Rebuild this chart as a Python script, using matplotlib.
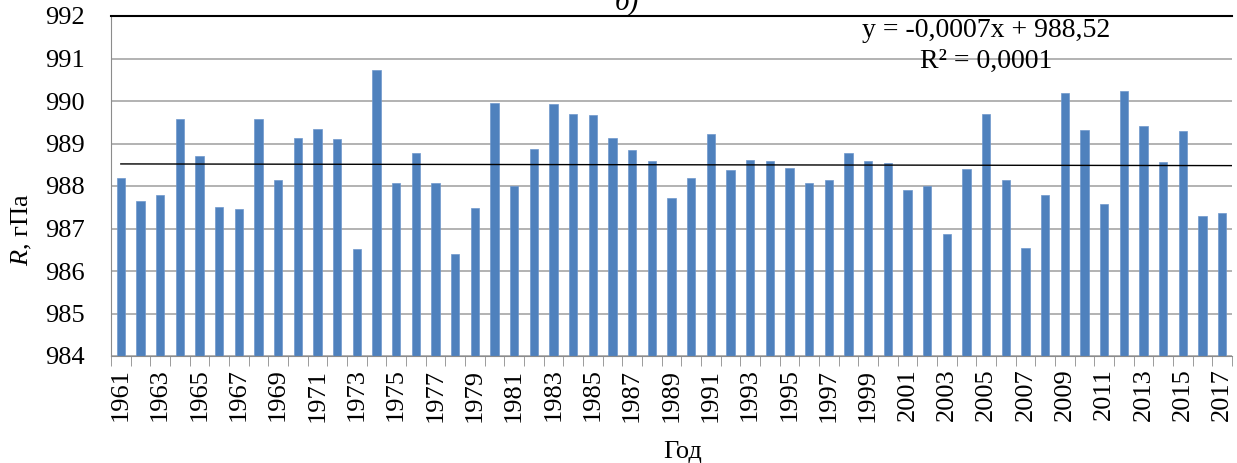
###########################################################################################################################
# Mean annual pressure R, hPa, 1961-2017 (panel b)
###########################################################################################################################
# Imports
import numpy as np
import matplotlib.pyplot as plt

###########################################################################################################################
# Data
years = list(range(1961, 2018))
pressure = [
    988.18, 987.65, 987.80, 989.58, 988.70, 987.51, 987.46, 989.58, 988.14, 989.14,  # 1961-1970
    989.35, 989.10, 986.52, 990.73, 988.06, 988.78, 988.06, 986.39, 987.49, 989.95,  # 1971-1980
    988.00, 988.87, 989.92, 989.70, 989.67, 989.14, 988.85, 988.59, 987.71, 988.18,  # 1981-1990
    989.23, 988.37, 988.62, 988.59, 988.43, 988.08, 988.15, 988.78, 988.59, 988.54,  # 1991-2000
    987.90, 988.00, 986.86, 988.40, 989.70, 988.14, 986.55, 987.80, 990.19, 989.32,  # 2001-2010
    987.58, 990.23, 989.42, 988.56, 989.29, 987.29, 987.36,                          # 2011-2017
]
trend_slope = -0.0007
trend_intercept = 988.52
equation_text = "y = -0,0007x + 988,52\nR\u00b2 = 0,0001"

###########################################################################################################################
# Style
plt.rcParams['font.family'] = ['Liberation Serif', 'DejaVu Serif']
plt.rcParams['mathtext.fontset'] = 'custom'
plt.rcParams['mathtext.it'] = 'Liberation Serif:italic'
plt.rcParams['mathtext.rm'] = 'Liberation Serif'

bar_color = '#4F81BD'
grid_color = '#A6A6A6'
axis_color = '#8C8C8C'
font_size = 19

###########################################################################################################################
# Figure
fig = plt.figure(figsize=(12.37, 4.63), dpi=100)
ax = fig.add_axes([111 / 1237, 107 / 463, 1121 / 1237, 340 / 463])

idx = np.arange(len(years))
ax.bar(idx, pressure, width=0.41, color=bar_color, edgecolor='#6E97CC', linewidth=0.5, zorder=2)

## Linear trend (Excel-style, x = 1..n)
trend_x = np.array([0, len(years) - 0.5])
ax.plot(trend_x, trend_slope * (trend_x + 1) + trend_intercept, color='black', linewidth=1.0, zorder=3)

## Axes limits, grid and spines
ax.set_ylim(984, 992)
ax.set_xlim(-0.5, len(years) - 0.5)
ax.set_yticks(np.arange(984, 993, 1))
ax.yaxis.grid(True, color=grid_color, linewidth=1.2, zorder=0)
ax.set_axisbelow(True)

ax.spines['top'].set_color('black')
ax.spines['top'].set_linewidth(1.5)
ax.spines['right'].set_visible(False)
ax.spines['left'].set_color(axis_color)
ax.spines['bottom'].set_color(axis_color)

## Ticks: boundaries get marks, odd years get labels
ax.set_xticks(idx[::2])
ax.set_xticklabels([str(y) for y in years[::2]], rotation=90, fontsize=font_size)
ax.set_xticks(np.arange(-0.5, len(years), 1), minor=True)
ax.tick_params(axis='x', which='major', length=0, pad=9)
ax.tick_params(axis='x', which='minor', length=7, color=axis_color, direction='out')
ax.tick_params(axis='y', length=0, pad=19, labelsize=font_size)

## Labels
ax.set_xlabel('Год', fontsize=font_size)
ax.xaxis.set_label_coords(0.51, -0.25)
ax.set_ylabel('$R$, гПа', fontsize=font_size)
ax.yaxis.set_label_coords(-0.069, 0.37)

## Equation and panel title
fig.text(986 / 1237, 1 - 18 / 463, equation_text, fontsize=font_size + 1, ha='center', va='top',
         linespacing=1.3)
fig.text(627 / 1237, 1 - 10 / 463, 'б)', fontsize=font_size + 2, style='italic', ha='center', va='baseline')

###########################################################################################################################
fig.savefig('out.png', dpi=100)
